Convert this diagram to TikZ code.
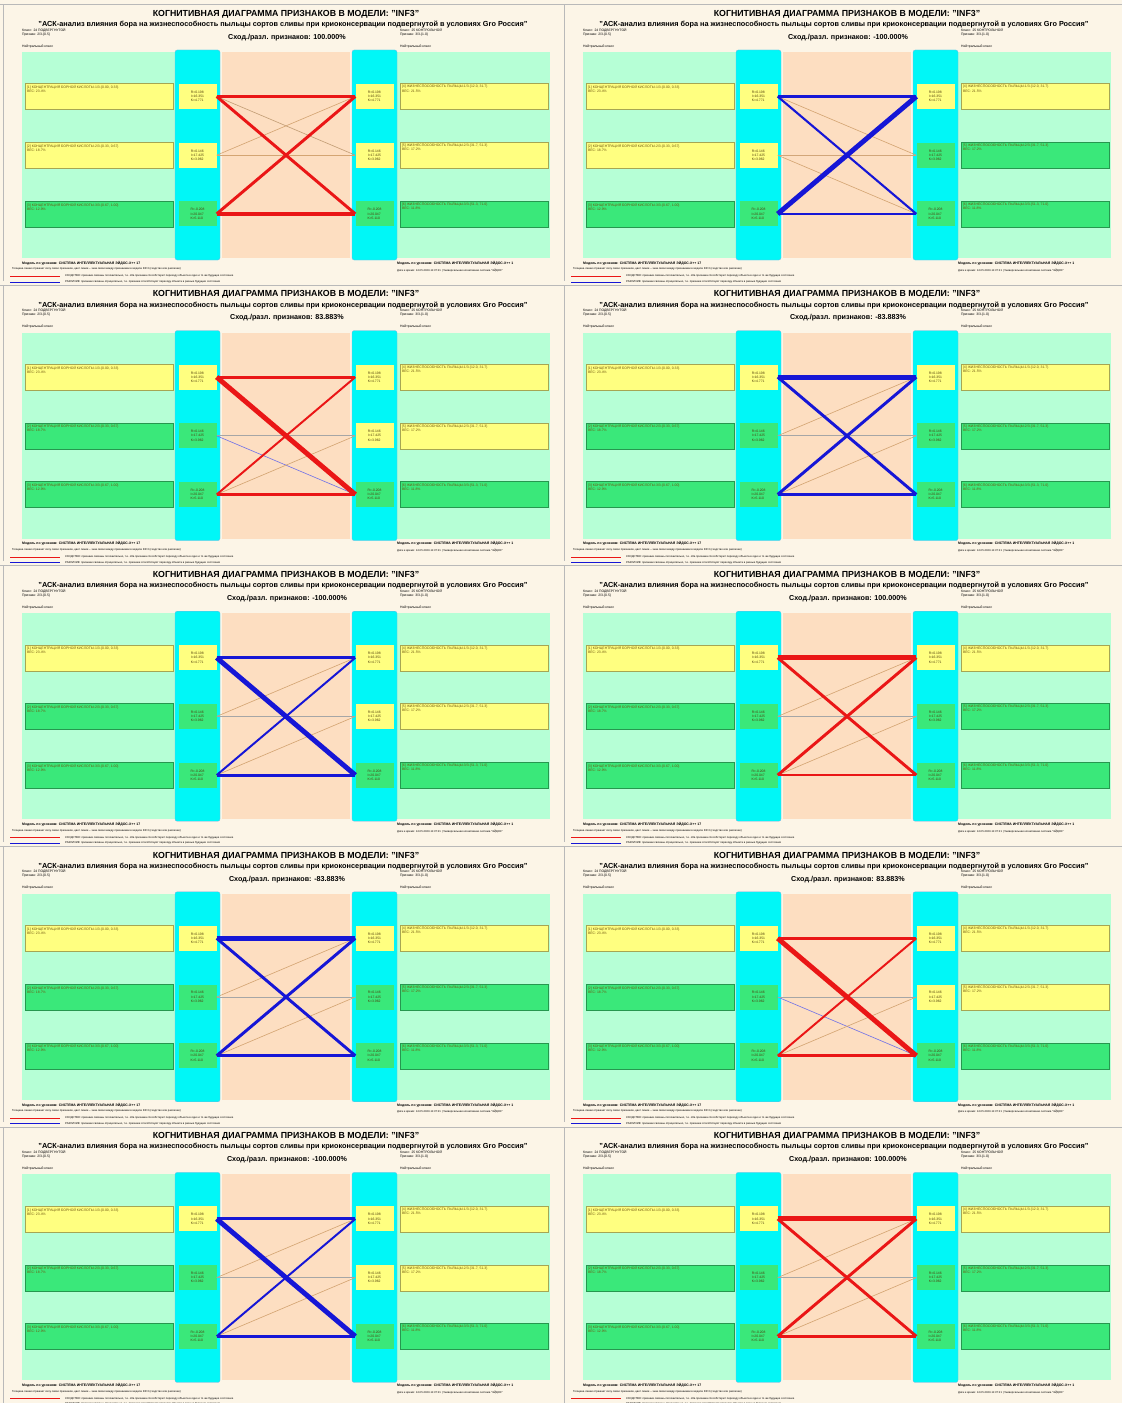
\documentclass[tikz,border=0pt]{standalone}
\usepackage{fontspec}
\setmainfont{Liberation Sans}
\usetikzlibrary{positioning,calc}
\definecolor{fonC}{RGB}{252,245,231}
\definecolor{mintC}{RGB}{182,255,214}
\definecolor{cyanC}{RGB}{0,247,247}
\definecolor{peachC}{RGB}{253,222,193}
\definecolor{boxY}{RGB}{255,255,128}
\definecolor{boxG}{RGB}{58,232,122}
\definecolor{plusC}{RGB}{234,22,22}
\definecolor{minusC}{RGB}{22,22,214}
\definecolor{tanC}{RGB}{212,165,115}
\definecolor{textC}{RGB}{110,85,15}
\tikzset{
  titre/.style={font=\fontsize{12.5}{13}\selectfont\bfseries, inner sep=0pt},
  appname/.style={font=\fontsize{10.4}{11}\selectfont\bfseries, inner sep=0pt},
  simtxt/.style={font=\fontsize{10.2}{11}\selectfont\bfseries, inner sep=0pt},
  petit/.style={font=\fontsize{4.8}{5.6}\selectfont, align=left, inner sep=0pt, anchor=north west},
  bigbox/.style={rectangle, fill=box#1, draw=box#1!65!black, line width=0.3pt,
                 minimum width=7.4cm, minimum height=1.3cm, inner sep=1.5pt,
                 font=\fontsize{4.9}{5.8}\selectfont, text=textC},
  smallbox/.style={rectangle, fill=box#1, minimum width=1.9cm, minimum height=1.25cm,
                   inner sep=1.5pt, align=left, font=\fontsize{4.8}{6}\selectfont, text=textC!70!black},
  conn/.style={line width=#1},
}
\newcommand{\lefttxt}[1]{\ifcase#1\or
  [1] КОНЦЕНТРАЦИЯ БОРНОЙ КИСЛОТЫ-1/3-\{0.00, 0.33\}\\ВЕС: 23.4\%\or
  [2] КОНЦЕНТРАЦИЯ БОРНОЙ КИСЛОТЫ-2/3-\{0.33, 0.67\}\\ВЕС: 18.7\%\or
  [3] КОНЦЕНТРАЦИЯ БОРНОЙ КИСЛОТЫ-3/3-\{0.67, 1.00\}\\ВЕС: 12.9\%\fi}
\newcommand{\righttxt}[1]{\ifcase#1\or
  [4] ЖИЗНЕСПОСОБНОСТЬ ПЫЛЬЦЫ-1/3-\{12.0, 31.7\}\\ВЕС: 21.5\%\or
  [5] ЖИЗНЕСПОСОБНОСТЬ ПЫЛЬЦЫ-2/3-\{31.7, 51.3\}\\ВЕС: 17.2\%\or
  [6] ЖИЗНЕСПОСОБНОСТЬ ПЫЛЬЦЫ-3/3-\{51.3, 71.0\}\\ВЕС: 11.8\%\fi}
\newcommand{\smalltxt}[1]{\ifcase#1\or
  R=0.198\\I=16.351\\K=4.771\or
  R=0.146\\I=17.425\\K=3.962\or
  R=-0.208\\I=20.047\\K=5.110\fi}
% #1 nom, #2 colonne, #3 rangee, #4 similarite, #5/#6 couleurs des cases,
% #7 couleur, #8 liens forts a/b/largeur, #9 liens faibles a/b/couleur
\newcommand{\cogpanel}[9]{%
\begin{scope}[shift={(#2*561,#3*280.6)}]
  \draw[gray!55, line width=0.6pt] (0,4.5) -- (561,4.5) (3,4.5) -- (3,280.6);
  \node[titre] (#1-tit) at (286,14) {КОГНИТИВНАЯ ДИАГРАММА ПРИЗНАКОВ В МОДЕЛИ: "INF3"};
  \node[appname] (#1-app) at (283,24.5) {"АСК-анализ влияния бора на жизнеспособность пыльцы сортов сливы при криоконсервации подвергнутой в условиях Gro Россия"};
  \node[simtxt] (#1-sim) at (287,37.5) {Сход./разл. признаков: #4};
  \node[petit] (#1-infl) at (22,28) {Класс: 24 ПОДВЕРГНУТОЙ\\Признак: 2/3-\{0.5\}};
  \node[petit] (#1-infr) at (400,28) {Класс: 25 КОНТРОЛЬНОЙ\\Признак: 3/3-\{1.0\}};
  \node[petit] (#1-neul) at (22,44.5) {Нейтральный класс};
  \node[petit] (#1-neur) at (400,44.5) {Нейтральный класс};
  \fill[mintC] (22,52) rectangle (175,258);
  \fill[mintC] (397,52) rectangle (550,258);
  \fill[peachC] (222,52) rectangle (350,258);
  \fill[cyanC, draw=cyan!60!blue!50, line width=0.4pt, rounded corners=3pt] (175,50) rectangle (220,260);
  \fill[cyanC, draw=cyan!60!blue!50, line width=0.4pt, rounded corners=3pt] (352,50) rectangle (397,260);
  \foreach \c [count=\i] in {#5} {
    \pgfmathsetmacro\yy{96.5+(\i-1)*58.7}
    \node[bigbox=\c] (#1-l\i) at (99,\yy)
      {\parbox[t][1.1cm][t]{7.2cm}{\raggedright\lefttxt{\i}}};
    \node[smallbox=\c] (#1-sl\i) at (197.5,\yy) {\smalltxt{\i}};
  }
  \foreach \c [count=\i] in {#6} {
    \pgfmathsetmacro\yy{96.5+(\i-1)*58.7}
    \node[bigbox=\c] (#1-r\i) at (474,\yy)
      {\parbox[t][1.1cm][t]{7.2cm}{\raggedright\righttxt{\i}}};
    \node[smallbox=\c] (#1-sr\i) at (374.5,\yy) {\smalltxt{\i}};
  }
  \foreach \a/\b/\c in {#9}
    \draw[conn=0.9pt, \c] (#1-sl\a.east) -- (#1-sr\b.west);
  \foreach \a/\b/\w in {#8}
    \draw[conn=\w pt, #7] (#1-sl\a.east) -- (#1-sr\b.west);
  \node[petit, font=\fontsize{4.9}{5.4}\selectfont\bfseries] (#1-piedl) at (22,261)
    {Модель по уровням: СИСТЕМА ИНТЕЛЛЕКТУАЛЬНАЯ ЭЙДОС-Х++ 17};
  \node[petit, font=\fontsize{4.9}{5.4}\selectfont\bfseries] (#1-piedr) at (397,261)
    {Модель по уровням: СИСТЕМА ИНТЕЛЛЕКТУАЛЬНАЯ ЭЙДОС-Х++ 1};
  \node[petit, font=\fontsize{3.9}{4}\selectfont] (#1-leg0) at (12,267.8)
    {Толщина линии отражает силу связи признаков, цвет линии -- знак связи между признаками в модели INF3 (сходство или различие)};
  \node[petit, font=\fontsize{3.9}{4}\selectfont] (#1-legd) at (397,268.5)
    {Дата и время: 14.05.2023-11:37:21 | Универсальная когнитивная система "ЭЙДОС"};
  \draw[plusC, line width=1.4pt] (10,276.5) -- (60,276.5);
  \draw[minusC, line width=1.4pt] (10,282) -- (60,282);
  \node[petit, font=\fontsize{3.9}{4}\selectfont] (#1-legp) at (65,274.8)
    {СХОДСТВО: признаки связаны положительно, т.е. оба признака способствуют переходу объекта в одно и то же будущее состояние};
  \node[petit, font=\fontsize{3.9}{4}\selectfont] (#1-legm) at (65,280.3)
    {РАЗЛИЧИЕ: признаки связаны отрицательно, т.е. признаки способствуют переходу объекта в разные будущие состояния};
\end{scope}}

\begin{document}
\begin{tikzpicture}[x=0.05cm, y=-0.05cm]
  \fill[fonC] (0,0) rectangle (1122,1403);
  \useasboundingbox (0,0) rectangle (1122,1403);
  \cogpanel{pa}{0}{0}{100.000\%}{Y,Y,G}{Y,Y,G}{plusC}
    {1/1/4.2, 3/3/5.6, 1/3/4.2, 3/1/4.2}{2/2/tanC, 1/2/tanC!80!gray, 2/1/tanC}
  \cogpanel{pb}{1}{0}{-100.000\%}{Y,Y,G}{Y,G,G}{minusC}
    {1/1/4.2, 3/3/3.5, 3/1/7, 1/3/3}{2/2/brown!70, 1/2/tanC, 2/3/tanC}
  \cogpanel{pc}{0}{1}{83.883\%}{Y,G,G}{Y,Y,G}{plusC}
    {1/1/4.2, 1/3/7, 3/1/2.8, 3/3/3.5}{2/3/minusC!60, 2/2/gray!70, 3/2/tanC}
  \cogpanel{pd}{1}{1}{-83.883\%}{Y,G,G}{Y,G,G}{minusC}
    {1/1/7, 1/3/4.2, 3/1/4.2, 3/3/4.2}{2/1/tanC, 2/2/gray!70, 3/2/tanC}
  \cogpanel{pe}{0}{2}{-100.000\%}{Y,G,G}{Y,Y,G}{minusC}
    {1/1/4.2, 1/3/7, 3/1/2.8, 3/3/4.2}{2/1/tanC, 2/2/gray!70, 3/2/tanC}
  \cogpanel{pf}{1}{2}{100.000\%}{Y,G,G}{Y,G,G}{plusC}
    {1/1/7, 1/3/4.2, 3/1/4.2, 3/3/3.5}{2/2/gray!70, 3/2/tanC, 2/1/tanC}
  \cogpanel{pg}{0}{3}{-83.883\%}{Y,G,G}{Y,G,G}{minusC}
    {1/1/7, 1/3/4.2, 3/1/4.2, 3/3/4.2}{2/1/tanC, 2/2/gray!70, 3/2/tanC}
  \cogpanel{ph}{1}{3}{83.883\%}{Y,G,G}{Y,Y,G}{plusC}
    {1/1/4.2, 1/3/7, 3/1/2.8, 3/3/4.2}{2/3/minusC!60, 2/2/gray!70, 3/2/tanC}
  \cogpanel{pi}{0}{4}{-100.000\%}{Y,G,G}{Y,Y,G}{minusC}
    {1/1/4.2, 1/3/7, 3/1/2.8, 3/3/4.2}{2/1/tanC, 2/2/gray!70, 3/2/tanC}
  \cogpanel{pj}{1}{4}{100.000\%}{Y,G,G}{Y,G,G}{plusC}
    {1/1/7, 1/3/4.2, 3/1/4.2, 3/3/4.2}{2/2/gray!70, 3/2/tanC, 2/1/tanC}
\end{tikzpicture}
\end{document}
